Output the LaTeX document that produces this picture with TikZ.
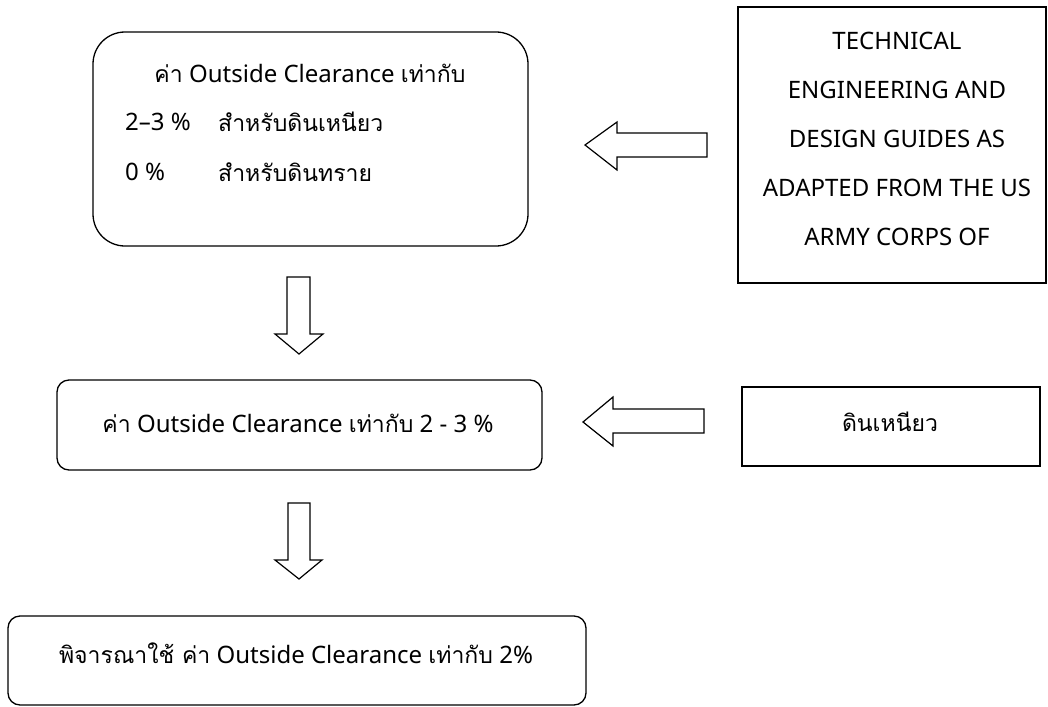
\documentclass[tikz,border=0pt]{standalone}
\usepackage{fontspec}
\setmainfont{Noto Sans}
\newfontfamily\thaifont[Script=Thai,Scale=0.96]{Loma}
\newcommand{\thx}[1]{{\thaifont #1}}
\begin{document}
\begin{tikzpicture}[x=1pt,y=-1pt,
  box/.style={draw,line width=1.3pt,inner sep=0pt},
  rbox/.style={box,rounded corners=12pt},
  txt/.style={inner sep=0pt,anchor=center,font=\fontsize{24}{27}\selectfont},
  ltxt/.style={txt,anchor=west},
  blockarrow/.style={draw,line width=1.2pt,fill=white,line join=miter}]
\useasboundingbox (0,0) rectangle (1048,706);
% boxes
\node[box,rounded corners=32pt,minimum width=435pt,minimum height=214pt] (b1) at (310.5,139) {};
\node[box,minimum width=308pt,minimum height=276pt] (tech) at (892,145) {};
\node[rbox,minimum width=485pt,minimum height=90pt] (b2) at (299.5,425) {};
\node[box,minimum width=298pt,minimum height=79pt] (clay) at (891,426.5) {};
\node[rbox,minimum width=578pt,minimum height=89pt] (b3) at (297,660.5) {};
% texts
\node[txt] (t1) at (310,73) {\thx{ค่า} Outside Clearance \thx{เท่ากับ}};
\node[ltxt] (t2a) at (125,122) {2–3 \%};
\node[ltxt] (t2b) at (218,122) {\thx{สำหรับดินเหนียว}};
\node[ltxt] (t3a) at (125,172) {0 \%};
\node[ltxt] (t3b) at (218,172) {\thx{สำหรับดินทราย}};
\node[txt] (tt1) at (897,41) {TECHNICAL};
\node[txt] (tt2) at (897,90) {ENGINEERING AND};
\node[txt] (tt3) at (897,139) {DESIGN GUIDES AS};
\node[txt] (tt4) at (897,188) {ADAPTED FROM THE US};
\node[txt] (tt5) at (897,237) {ARMY CORPS OF};
\node[txt] (tb2) at (298,423) {\thx{ค่า} Outside Clearance \thx{เท่ากับ} 2 - 3 \%};
\node[txt] (tclay) at (890,422) {\thx{ดินเหนียว}};
\node[txt] (tb3) at (296,653) {\thx{พิจารณาใช้ ค่า} Outside Clearance \thx{เท่ากับ} 2\%};
% block arrows
\draw[blockarrow] (707,133) -- (617,133) -- (617,122) -- (585,145) -- (617,170) -- (617,157) -- (707,157) -- cycle;
\draw[blockarrow] (704,409) -- (613,409) -- (613,397) -- (583,422) -- (613,446) -- (613,433) -- (704,433) -- cycle;
\draw[blockarrow] (287,277) -- (310,277) -- (310,334) -- (323,334) -- (299,354) -- (275,334) -- (287,334) -- cycle;
\draw[blockarrow] (288,503) -- (310,503) -- (310,560) -- (322,560) -- (299,579) -- (275,560) -- (288,560) -- cycle;
\end{tikzpicture}
\end{document}
